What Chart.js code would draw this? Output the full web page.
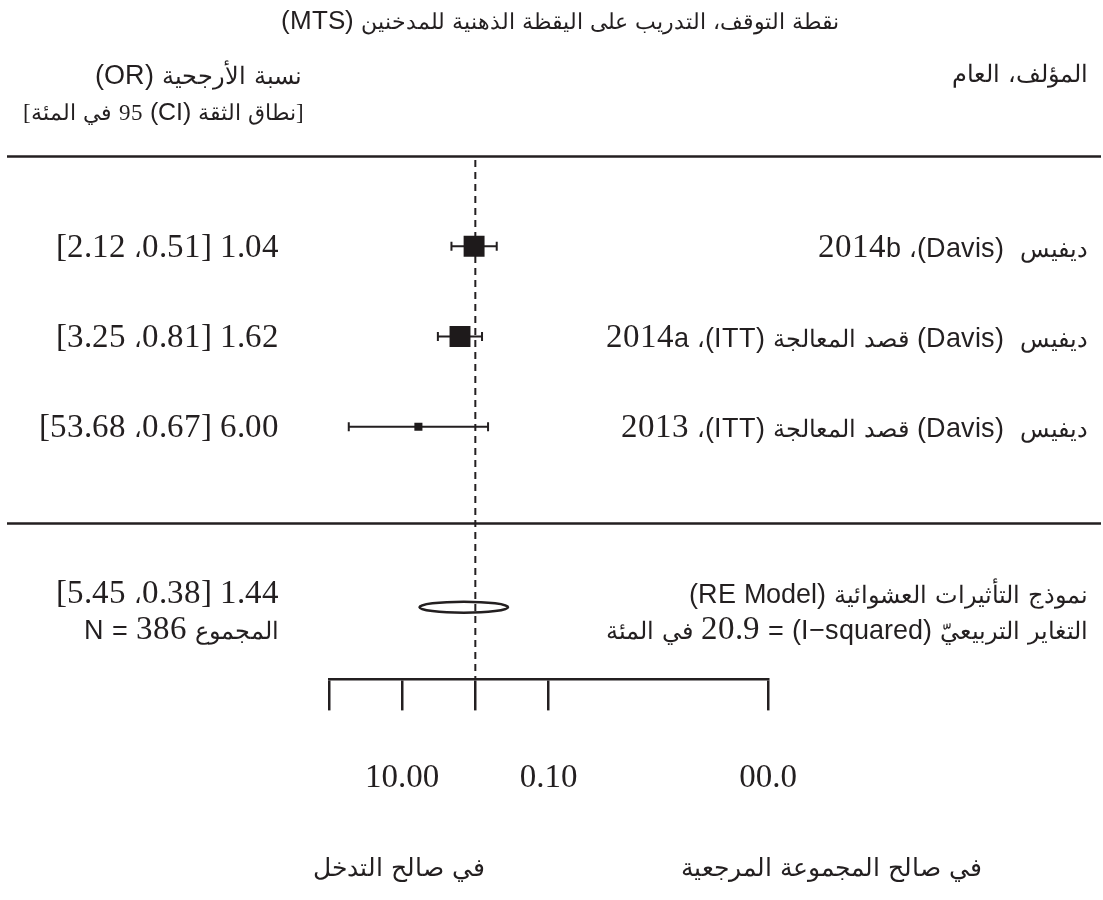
<!DOCTYPE html>
<html lang="ar">
<head>
<meta charset="utf-8">
<style>
  /* body text: digits and brackets in a serif face, other Latin in a sans face, Arabic in DejaVu */
  @font-face { font-family: 'FMix'; src: local('Liberation Serif'), local('LiberationSerif'); unicode-range: U+0030-0039, U+002E, U+005B, U+005D; size-adjust: 148%; }
  @font-face { font-family: 'FMix'; src: local('Liberation Sans'), local('LiberationSans'); unicode-range: U+0020-002D, U+002F, U+003A-005A, U+005C, U+005E-007E, U+2212; size-adjust: 122%; }
  @font-face { font-family: 'FMix'; src: local('DejaVu Sans'), local('DejaVuSans'); unicode-range: U+0600-06FF, U+FB50-FDFF, U+FE70-FEFF; size-adjust: 110%; }
  /* column headers: same faces, smaller numerals */
  @font-face { font-family: 'FHead'; src: local('Liberation Serif'), local('LiberationSerif'); unicode-range: U+0030-0039, U+002E, U+005B, U+005D; size-adjust: 112%; }
  @font-face { font-family: 'FHead'; src: local('Liberation Sans'), local('LiberationSans'); unicode-range: U+0020-002D, U+002F, U+003A-005A, U+005C, U+005E-007E, U+2212; size-adjust: 122%; }
  @font-face { font-family: 'FHead'; src: local('DejaVu Sans'), local('DejaVuSans'); unicode-range: U+0600-06FF, U+FB50-FDFF, U+FE70-FEFF; size-adjust: 107%; }
  html, body { margin: 0; padding: 0; background: #fff; }
  #wrap { width: 1103px; height: 900px; position: relative; }
</style>
<script src="https://cdn.jsdelivr.net/npm/chart.js@4/dist/chart.umd.min.js"></script>
</head>
<body>
<div id="wrap"><canvas id="forest" width="1103" height="900"></canvas></div>
<script>
// Study rows (top to bottom)
const studyLabels = [
  'ديفيس  (Davis)، 2014b',
  'ديفيس  (Davis) قصد المعالجة (ITT)، 2014a',
  'ديفيس  (Davis) قصد المعالجة (ITT)، 2013'
];
const oddsRatios = [1.04, 1.62, 6.00];
const ciLower = [0.51, 0.81, 0.67];
const ciUpper = [2.12, 3.25, 53.68];
const studyRows = [5, 4, 3];

// Random-effects summary
const pooledEstimate = [1.44];
const pooledLower = [0.38];
const pooledUpper = [5.45];
const pooledRow = [1];
const totalN = [386];
const iSquared = [20.9];

// Axis ticks
const tickValues = [100, 10, 1, 0.1, 0.0001];
const tickLabels = ['', '10.00', '', '0.10', '00.0'];

const INK = '#231f20';
const FONT = 'FMix, "DejaVu Sans", sans-serif';
const HEAD_FONT = 'FHead, "DejaVu Sans", sans-serif';

function fmt(v) { return v.toFixed(2); }
function ciText(o, l, u) { return fmt(o) + ' [' + fmt(l) + '، ' + fmt(u) + ']'; }

function drawText(ctx, s, x, y, align, size, family) {
  ctx.save();
  ctx.direction = 'rtl';
  ctx.font = size + 'px ' + (family || FONT);
  ctx.fillStyle = INK;
  ctx.textAlign = align;
  ctx.textBaseline = 'middle';
  ctx.fillText(s, x, y);
  ctx.restore();
}

const forestPlugin = {
  id: 'forestPlugin',
  beforeDatasetsDraw(chart) {
    const ctx = chart.ctx;
    const xs = chart.scales.x, ys = chart.scales.y;
    const w = chart.width;
    ctx.save();
    ctx.strokeStyle = INK;

    // horizontal separators
    ctx.lineWidth = 2.5;
    [6, 1.93].forEach(r => {
      const y = Math.round(ys.getPixelForValue(r)) + 0.5;
      ctx.beginPath(); ctx.moveTo(7, y); ctx.lineTo(w - 2, y); ctx.stroke();
    });

    // reference line at OR = 1
    const x1 = xs.getPixelForValue(1);
    ctx.lineWidth = 2;
    ctx.setLineDash([7, 5]);
    ctx.beginPath();
    ctx.moveTo(x1, ys.getPixelForValue(6) + 4);
    ctx.lineTo(x1, chart.chartArea.bottom);
    ctx.stroke();
    ctx.setLineDash([]);

    // confidence intervals
    ctx.lineWidth = 2;
    studyRows.forEach((r, i) => {
      const y = ys.getPixelForValue(r);
      const a = xs.getPixelForValue(ciLower[i]);
      const b = xs.getPixelForValue(ciUpper[i]);
      ctx.beginPath();
      ctx.moveTo(a, y); ctx.lineTo(b, y);
      ctx.moveTo(a, y - 4.5); ctx.lineTo(a, y + 4.5);
      ctx.moveTo(b, y - 4.5); ctx.lineTo(b, y + 4.5);
      ctx.stroke();
    });

    // summary estimate drawn as an ellipse spanning its interval
    const yp = ys.getPixelForValue(pooledRow[0]);
    const lo = xs.getPixelForValue(pooledLower[0]);
    const hi = xs.getPixelForValue(pooledUpper[0]);
    ctx.lineWidth = 2.5;
    ctx.beginPath();
    ctx.ellipse((lo + hi) / 2, yp, Math.abs(lo - hi) / 2 + 2, 5.5, 0, 0, Math.PI * 2);
    ctx.stroke();
    ctx.restore();
  },
  afterDraw(chart) {
    const ctx = chart.ctx;
    const ys = chart.scales.y;
    const rightX = 1088, leftX = 279;

    drawText(ctx, 'نقطة التوقف، التدريب على اليقظة الذهنية للمدخنين (MTS)', 560, 22, 'center', 21, HEAD_FONT);
    drawText(ctx, 'المؤلف، العام', rightX, 75, 'right', 22, HEAD_FONT);
    drawText(ctx, 'نسبة الأرجحية (OR)', 302, 77, 'right', 22, HEAD_FONT);
    drawText(ctx, '[نطاق الثقة (CI) 95 في المئة]', 304, 113, 'right', 20.5, HEAD_FONT);

    studyRows.forEach((r, i) => {
      const y = ys.getPixelForValue(r) + 3;
      drawText(ctx, studyLabels[i], rightX, y, 'right', 22);
      drawText(ctx, ciText(oddsRatios[i], ciLower[i], ciUpper[i]), leftX, y, 'right', 22);
    });

    const yp = ys.getPixelForValue(pooledRow[0]);
    drawText(ctx, 'نموذج التأثيرات العشوائية (RE Model)', rightX, yp - 12, 'right', 22);
    drawText(ctx, 'التغاير التربيعيّ (I−squared) = ' + iSquared[0].toFixed(1) + ' في المئة', rightX, yp + 24, 'right', 22);
    drawText(ctx, ciText(pooledEstimate[0], pooledLower[0], pooledUpper[0]), leftX, yp - 12, 'right', 22);
    drawText(ctx, 'المجموع ' + totalN[0] + ' = N', leftX, yp + 24, 'right', 22);

    drawText(ctx, 'في صالح المجموعة المرجعية', 831, 868, 'center', 23, HEAD_FONT);
    drawText(ctx, 'في صالح التدخل', 399, 868, 'center', 23, HEAD_FONT);
  }
};

function build() {
  new Chart(document.getElementById('forest'), {
    type: 'scatter',
    data: {
      datasets: [{
        data: oddsRatios.map((v, i) => ({ x: v, y: studyRows[i] })),
        pointStyle: 'rect',
        pointRadius: [14.8, 14.8, 5.7],
        pointHoverRadius: [14.8, 14.8, 5.7],
        backgroundColor: '#1e1a1b',
        borderWidth: 0
      }]
    },
    options: {
      responsive: false,
      animation: false,
      events: [],
      layout: { padding: { left: 329, right: 335, top: 156, bottom: 54 } },
      plugins: { legend: { display: false }, tooltip: { enabled: false } },
      scales: {
        x: {
          type: 'logarithmic',
          reverse: true,
          min: 0.0001,
          max: 100,
          afterBuildTicks(scale) { scale.ticks = tickValues.map(v => ({ value: v })); },
          border: { display: true, color: INK, width: 2.5 },
          grid: { drawOnChartArea: false, drawTicks: true, tickLength: 31, color: INK, lineWidth: 2.5 },
          ticks: {
            autoSkip: false,
            maxRotation: 0,
            padding: 48,
            color: INK,
            font: { family: '"Liberation Serif", serif', size: 33 },
            callback(value) {
              const i = tickValues.findIndex(t => Math.abs(Math.log10(t) - Math.log10(value)) < 1e-6);
              return i >= 0 ? tickLabels[i] : '';
            }
          }
        },
        y: { type: 'linear', min: 0.2, max: 6, display: false }
      }
    },
    plugins: [forestPlugin]
  });
}

Promise.all([
  document.fonts.load('22px FMix', '0'),
  document.fonts.load('22px FMix', 'a'),
  document.fonts.load('22px FMix', '\u0627'),
  document.fonts.load('22px FHead', '0'),
  document.fonts.load('22px FHead', 'a'),
  document.fonts.load('22px FHead', '\u0627')
]).then(build, build);
</script>
</body>
</html>
